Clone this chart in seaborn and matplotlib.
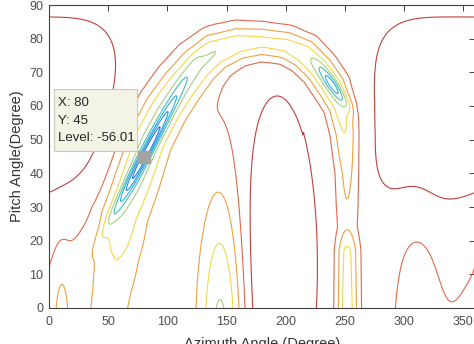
import numpy as np
import matplotlib.pyplot as plt
import seaborn as sns
from matplotlib.patches import Rectangle

sns.set_style("white")
plt.rcParams['font.family'] = ['Liberation Sans', 'DejaVu Sans']

# contour levels and their line colours
levels = [-55, -50, -45, -40, -35, -30, -25, -20, -15, -10]
level_colors = ['#1d5fcc', '#1f7bdc', '#2593e3', '#2eaedd', '#49bdb7',
                '#a6cf80', '#f1d94a', '#eca142', '#df6a4c', '#c1403b']

# datatip
tip_az, tip_el, tip_level = 80, 45, -56.01

# background level of the pattern
base_level = -12.0

# main valley (U shape): centre line, floor value, width (screen px)
valley_az = [48, 54, 57, 62, 72, 84, 98, 112, 126, 140, 160, 180, 200, 215,
             228, 238, 246, 250, 252, 252, 252, 252, 252]
valley_el = [-15, 5, 15, 28, 38, 50, 59, 66, 72, 76, 78.5, 79, 78, 75.5,
             71, 66, 60, 52, 40, 30, 24, 17, -10]
valley_floor = [-17, -18, -20, -26, -29, -30, -30, -30, -29.5, -29, -27.5,
                -26.8, -27.5, -29, -30, -30, -28, -25.5, -22, -20, -19.5, -26.5, -29]
valley_width = [22, 22, 22, 22, 22, 22, 22, 21, 20, 19, 18, 17, 17, 17,
                16, 16, 14, 13, 12, 12, 11, 11, 11]

# local bumps / dips: centre, amplitude, widths (px), tilt (deg), shape power
feat_az = [82, 240, 146, 10.5, 310, 190, 348, 35, 104]
feat_el = [46, 66, -10, -5, -5, 12, 58, 0, -10]
feat_amp = [-23, -14, -20, -6, -6.1, 7.5, 4, -5.5, -4]
feat_wa = [66, 24, 23, 7.5, 22, 38, 95, 200, 28]
feat_wb = [5, 5, 150, 60, 100, 160, 105, 70, 120]
feat_tilt = [62, -55, 0, 0, 0, 0, 0, 62, 0]
feat_pow = [1, 1, 1, 1, 1, 1, 2, 1, 1]

SX, SY = 426 / 360, 303 / 90   # screen px per degree

az = np.linspace(0, 360, 721)
el = np.linspace(0, 90, 361)
AZ, EL = np.meshgrid(az, el)
X, Y = AZ * SX, EL * SY


def path_term(pa, pe, vals, widths):
    px = np.array(pa) * SX
    py = np.array(pe) * SY
    out = np.zeros_like(X)
    for i in range(len(px) - 1):
        dx, dy = px[i + 1] - px[i], py[i + 1] - py[i]
        L2 = dx * dx + dy * dy
        t = np.clip(((X - px[i]) * dx + (Y - py[i]) * dy) / L2, 0, 1)
        d = np.hypot(X - px[i] - t * dx, Y - py[i] - t * dy)
        v = vals[i] + t * (vals[i + 1] - vals[i])
        w = widths[i] + t * (widths[i + 1] - widths[i])
        out = np.minimum(out, v * np.exp(-(d / w) ** 2))
    return out


Z = np.full_like(X, base_level)
Z += path_term(valley_az, valley_el,
               [f - base_level for f in valley_floor], valley_width)

for ca, ce, amp, wa, wb, tilt, p in zip(feat_az, feat_el, feat_amp, feat_wa,
                                         feat_wb, feat_tilt, feat_pow):
    dxa = (((AZ - ca + 180) % 360) - 180) * SX
    dya = (EL - ce) * SY
    th = np.deg2rad(tilt)
    u = dxa * np.cos(th) + dya * np.sin(th)
    v = -dxa * np.sin(th) + dya * np.cos(th)
    Z += amp * np.exp(-(u / wa) ** (2 * p) - (v / wb) ** (2 * p))

fig = plt.figure(figsize=(4.74, 3.44), dpi=100)
ax = fig.add_axes([49 / 474, 36 / 344, 426 / 474, 303 / 344])
ax.contour(AZ, EL, Z, levels=levels, colors=level_colors, linewidths=0.8)

ax.plot([tip_az], [tip_el], marker='s', ms=8, color='#a3a3a3', mec='#a3a3a3', zorder=5)

ax.set_xlim(0, 360)
ax.set_ylim(0, 90)
ax.set_xticks(range(0, 351, 50))
ax.set_yticks(range(0, 91, 10))
ax.tick_params(direction='in', length=4, width=0.7, colors='#404040',
               labelcolor='#4d4d4d', labelsize=9, top=True, right=True, pad=6)
ax.tick_params(axis='y', pad=4)
for s in ax.spines.values():
    s.set_color('#404040')
    s.set_linewidth(0.8)
ax.set_xlabel('Azimuth Angle (Degree)', fontsize=10.5, color='#333333', labelpad=6)
ax.set_ylabel('Pitch Angle(Degree)', fontsize=10.5, color='#333333', labelpad=4)

# datatip box
fig.patches.append(Rectangle((54 / 474, 1 - 151 / 344), 83 / 474, 62 / 344,
                             transform=fig.transFigure, facecolor='#f4f4e6',
                             edgecolor='#c9c9bd', linewidth=0.8, zorder=10))
tip_lines = ['X: %d' % tip_az, 'Y: %d' % tip_el, 'Level: %.2f' % tip_level]
for k, txt in enumerate(tip_lines):
    fig.text(58 / 474, 1 - (103 + 17.5 * k) / 344, txt, fontsize=9.5,
             color='#262626', va='center', ha='left', zorder=11)

fig.savefig('out.png', dpi=100)
